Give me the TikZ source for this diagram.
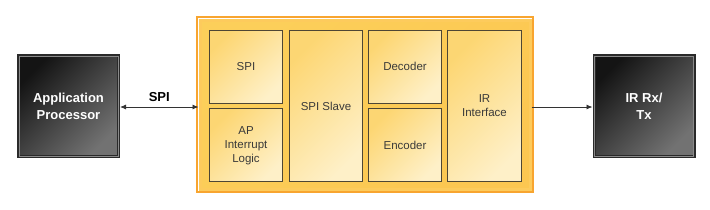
\documentclass[tikz,border=0pt]{standalone}
\usepackage{fontspec}
\setmainfont{Liberation Sans}
\usepackage{tikz}
\usetikzlibrary{positioning,arrows.meta,calc}
\usepackage{xcolor}
\definecolor{chipdark}{HTML}{141414}
\definecolor{chiplight}{HTML}{727272}
\definecolor{chiprim}{HTML}{2A2A2A}
\definecolor{rimline}{HTML}{8A8A8A}
\definecolor{edgeorange}{HTML}{F8A530}
\definecolor{band}{HTML}{FDCB5C}
\definecolor{gold}{HTML}{FCCF5A}
\definecolor{cream}{HTML}{FEF0C8}
\definecolor{blockedge}{HTML}{4E4634}
\definecolor{blocktext}{HTML}{3A3A3A}
\tikzset{chip/.style={draw=chiprim,line width=3pt,left color=chipdark,right color=chiplight,shading angle=45,
    text=white,font=\fontsize{13}{17}\selectfont\bfseries,align=center,minimum width=100pt,minimum height=101pt},
  board/.style={draw=band,line width=3pt,left color=gold,middle color=cream,right color=gold!90!orange,shading angle=45,
    minimum width=330pt,minimum height=169pt},
  block/.style={draw=blockedge,line width=0.9pt,left color=gold!85!white,right color=cream,shading angle=45,
    text=blocktext,font=\fontsize{11.5}{14}\selectfont,align=center,minimum width=73pt,minimum height=73pt,inner sep=1pt},
  link/.style={draw=black!80,line width=0.8pt}}

\begin{document}
\begin{tikzpicture}[x=1pt,y=-1pt,>={Latex[length=6pt,width=5pt]}]
    \useasboundingbox[fill=white](0,0)rectangle(710,209);
    % processor, ir front end
    \node[chip](ap)at(68.5,106){Application\\Processor};
    \node[chip](rx)at(644,106){IR Rx/\\Tx};
    \foreach \c in {ap,rx}
      \draw[rimline,line width=0.7pt]([shift={(2pt,-2pt)}]\c.north west)rectangle([shift={(-2pt,2pt)}]\c.south east);
    % the controller
    \node[board](board)at(365,104.5){};
    \draw[edgeorange,line width=2pt]([shift={(-1.5pt,1.5pt)}]board.north west)rectangle([shift={(1.5pt,-1.5pt)}]board.south east);
    \node[block](spi)at(246,66.5){SPI};
    \node[block,below=5pt of spi](apint){AP\\Interrupt\\Logic};
    \node[block,minimum height=151pt](slave)at(326,106){SPI Slave};
    \node[block](dec)at(405,66.5){Decoder};
    \node[block,below=5pt of dec](enc){Encoder};
    \node[block,minimum width=74pt,minimum height=151pt](irif)at(484.5,106){IR\\Interface};
    % links
    \draw[link,<->](ap.east|-0,107)--node[above=2pt,font=\fontsize{13}{15}\selectfont\bfseries]{SPI}(board.west|-0,107);
    \draw[link,->](board.east|-0,107)--(rx.west|-0,107);
  \end{tikzpicture}
\end{document}
